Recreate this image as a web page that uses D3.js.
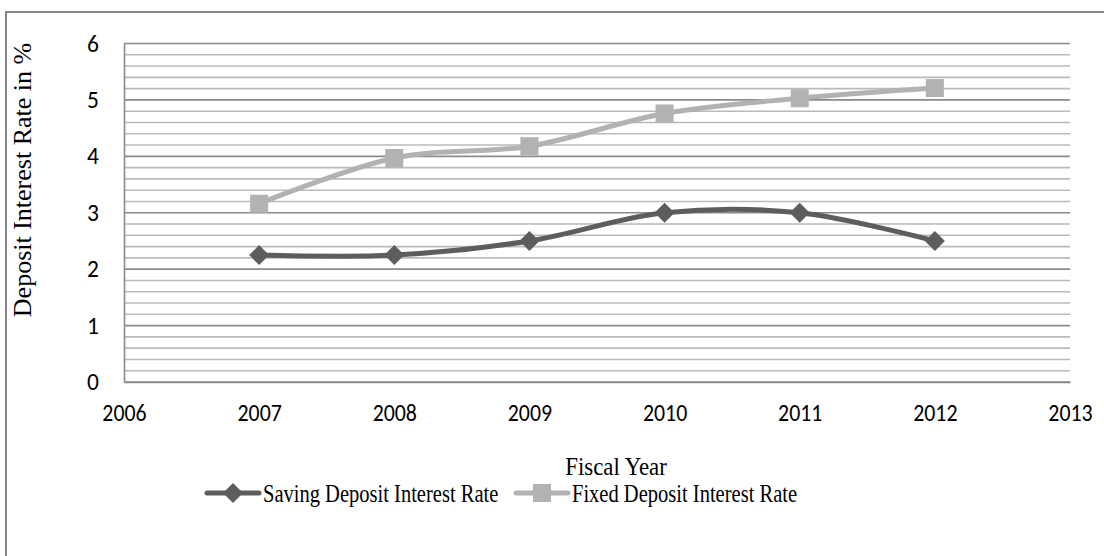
<!DOCTYPE html>
<html>
<head>
<meta charset="utf-8">
<script src="https://cdn.jsdelivr.net/npm/d3@7/dist/d3.min.js"></script>
<style>
  html, body { margin: 0; padding: 0; background: #fff; }
  svg { display: block; }
</style>
</head>
<body>
<svg id="chart" width="1104" height="556"></svg>
<script>
// Fiscal years and deposit interest rates (%)
const years = [2007, 2008, 2009, 2010, 2011, 2012];
const savingRates = [2.25, 2.25, 2.5, 3.0, 3.0, 2.5];
const fixedRates = [3.16, 3.97, 4.18, 4.76, 5.03, 5.21];
const xTicks = [2006, 2007, 2008, 2009, 2010, 2011, 2012, 2013];
const yTicks = [0, 1, 2, 3, 4, 5, 6];
const seriesNames = ["Saving Deposit Interest Rate", "Fixed Deposit Interest Rate"];

const svg = d3.select("#chart");
const W = 1104, H = 556;
const plot = { left: 124, right: 1070, top: 43.5, bottom: 382 };

const serif = "'Liberation Serif', 'Times New Roman', serif";
const sans = "Carlito, Calibri, 'Open Sans', Lato, sans-serif";

// outer chart frame
svg.append("rect")
  .attr("x", 6).attr("y", 12)
  .attr("width", W + 20).attr("height", H + 20)
  .attr("fill", "#fff").attr("stroke", "#878787").attr("stroke-width", 2);

const x = d3.scaleLinear().domain([2006, 2013]).range([plot.left, plot.right]);
const y = d3.scaleLinear().domain([0, 6]).range([plot.bottom, plot.top]);

// minor and major horizontal gridlines
const minor = d3.range(0, 30).map(i => i * 0.2).filter(v => Math.abs(v - Math.round(v)) > 1e-6);
svg.append("g").selectAll("line").data(minor).join("line")
  .attr("x1", plot.left).attr("x2", plot.right)
  .attr("y1", d => y(d)).attr("y2", d => y(d))
  .attr("stroke", "#bababa").attr("stroke-width", 1.6);
svg.append("g").selectAll("line").data(yTicks).join("line")
  .attr("x1", plot.left).attr("x2", plot.right)
  .attr("y1", d => y(d)).attr("y2", d => y(d))
  .attr("stroke", "#8a8a8a").attr("stroke-width", 1.6);

// y axis
const yAxis = svg.append("g")
  .attr("transform", `translate(${plot.left},0)`)
  .call(d3.axisLeft(y).tickValues(yTicks).tickSize(0).tickPadding(25).tickFormat(d3.format("d")));
yAxis.select(".domain").attr("stroke", "#8a8a8a").attr("stroke-width", 1.6);
yAxis.selectAll("text").attr("font-family", sans).attr("font-size", 23.5).attr("fill", "#000");

// x axis
const xAxis = svg.append("g")
  .attr("transform", `translate(0,${plot.bottom})`)
  .call(d3.axisBottom(x).tickValues(xTicks).tickSize(0).tickPadding(22).tickFormat(d3.format("d")));
xAxis.select(".domain").attr("stroke", "#8a8a8a").attr("stroke-width", 1.6);
xAxis.selectAll("text").attr("font-family", sans).attr("font-size", 23.5).attr("fill", "#000")
  .attr("transform", "scale(0.93,1)");

// axis titles
svg.append("text")
  .attr("transform", `translate(31,180) rotate(-90)`)
  .attr("text-anchor", "middle")
  .attr("font-family", serif).attr("font-size", 26)
  .text("Deposit Interest Rate in %");
const fx = 616;
svg.append("text")
  .attr("x", fx).attr("y", 475)
  .attr("text-anchor", "middle")
  .attr("font-family", serif).attr("font-size", 26)
  .attr("transform", `translate(${fx * (1 - 0.88)},0) scale(0.88,1)`)
  .text("Fiscal Year");

const line = d3.line().curve(d3.curveCardinal.tension(0))
  .x((d, i) => x(years[i])).y(d => y(d));

const colors = ["#5d5d5d", "#b2b2b2"];
const diamond = s => `M0,${-s}L${s},0L0,${s}L${-s},0Z`;

// fixed deposit series
svg.append("path").datum(fixedRates)
  .attr("d", line).attr("fill", "none")
  .attr("stroke", colors[1]).attr("stroke-width", 5).attr("stroke-linecap", "round");
svg.append("g").selectAll("rect").data(fixedRates).join("rect")
  .attr("x", (d, i) => x(years[i]) - 9).attr("y", d => y(d) - 9)
  .attr("width", 18).attr("height", 18).attr("fill", colors[1]);

// saving deposit series
svg.append("path").datum(savingRates)
  .attr("d", line).attr("fill", "none")
  .attr("stroke", colors[0]).attr("stroke-width", 5).attr("stroke-linecap", "round");
svg.append("g").selectAll("path").data(savingRates).join("path")
  .attr("transform", (d, i) => `translate(${x(years[i])},${y(d)})`)
  .attr("d", diamond(10)).attr("fill", colors[0]);

// legend
const legendY = 493;
const legendItems = [
  { name: seriesNames[0], x0: 205, color: colors[0], marker: "diamond" },
  { name: seriesNames[1], x0: 514, color: colors[1], marker: "square" }
];
legendItems.forEach(item => {
  const g = svg.append("g");
  g.append("line")
    .attr("x1", item.x0 + 2).attr("x2", item.x0 + 54)
    .attr("y1", legendY).attr("y2", legendY)
    .attr("stroke", item.color).attr("stroke-width", 5).attr("stroke-linecap", "round");
  if (item.marker === "diamond") {
    g.append("path").attr("transform", `translate(${item.x0 + 28},${legendY})`)
      .attr("d", diamond(10)).attr("fill", item.color);
  } else {
    g.append("rect").attr("x", item.x0 + 19).attr("y", legendY - 9)
      .attr("width", 18).attr("height", 18).attr("fill", item.color);
  }
  const tx = item.x0 + 58;
  g.append("text")
    .attr("x", tx).attr("y", legendY + 9)
    .attr("font-family", serif).attr("font-size", 26)
    .attr("transform", `translate(${tx * (1 - 0.79)},0) scale(0.79,1)`)
    .text(item.name);
});
</script>
</body>
</html>
